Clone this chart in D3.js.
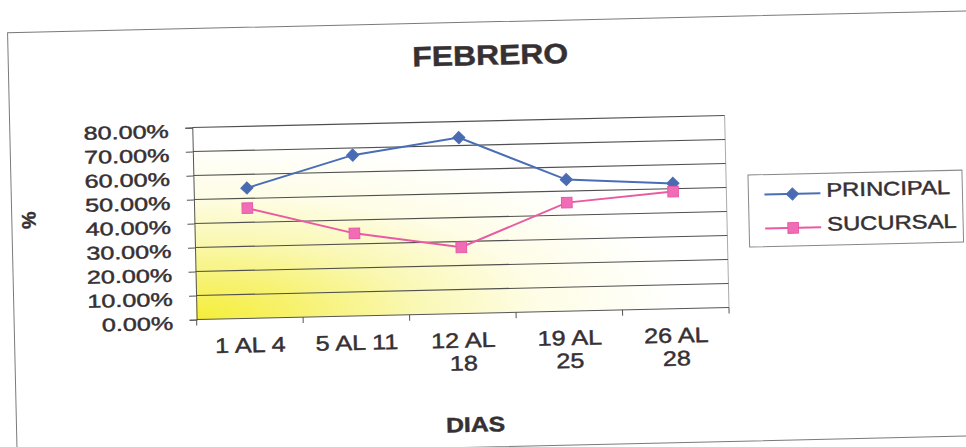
<!DOCTYPE html>
<html><head><meta charset="utf-8">
<script src="https://cdn.jsdelivr.net/npm/d3@7"></script>
<style>body{margin:0;background:#fff} svg{display:block}</style>
</head><body><svg id="c" width="966" height="447"></svg>
<script>
// ---- data ----
const categories = ["1 AL 4", "5 AL 11", "12 AL 18", "19 AL 25", "26 AL 28"];
const principal = [0.543, 0.67, 0.733, 0.548, 0.522];
const sucursal  = [0.459, 0.344, 0.276, 0.452, 0.488];
const yTicks = [0, 0.1, 0.2, 0.3, 0.4, 0.5, 0.6, 0.7, 0.8];
const seriesNames = ["PRINCIPAL", "SUCURSAL"];
const chartTitle = "FEBRERO", xTitle = "DIAS", yTitle = "%";

// ---- setup ----
const FONT = "'Liberation Sans', Arial, sans-serif";
const TXT = "#363033";
const svg = d3.select("#c");
const root = svg.append("g").attr("transform", "rotate(-1.3 483 223)");
const M = {left: 194.5, right: 727, top: 121, bottom: 313};
const x = d3.scaleBand().domain(categories).range([M.left, M.right]);
const y = d3.scaleLinear().domain([0, 0.8]).range([M.bottom, M.top]);
const cx = c => x(c) + x.bandwidth() / 2;
const heavy = sel => sel.attr("fill", TXT).attr("stroke", TXT).attr("stroke-width", 0.45);

const series = [
  {name: seriesNames[0], values: principal, color: "#4a6eb6", fill: "#4a6ab2", shape: "diamond"},
  {name: seriesNames[1], values: sucursal,  color: "#e95aa3", fill: "#f06cb6", shape: "square"}
];

// outer chart border
root.append("rect").attr("x", 12).attr("y", 22).attr("width", 1000).attr("height", 425)
  .attr("fill", "none").attr("stroke", "#7a7a7a").attr("stroke-width", 1);

// gradient
const defs = svg.append("defs");
const grad = defs.append("radialGradient").attr("id", "bg")
  .attr("cx", 0).attr("cy", 1).attr("r", 0.92).attr("fx", 0).attr("fy", 1);
[[0, "#f5ee38"], [0.22, "#f7f272"], [0.45, "#faf8b4"], [0.7, "#fefde6"], [1, "#ffffff"]]
  .forEach(([o, c]) => grad.append("stop").attr("offset", o).attr("stop-color", c));

root.append("rect").attr("x", M.left).attr("y", M.top)
  .attr("width", M.right - M.left).attr("height", M.bottom - M.top)
  .attr("fill", "url(#bg)");

// right border of plot
root.append("line").attr("x1", M.right).attr("x2", M.right).attr("y1", M.top).attr("y2", M.bottom)
  .attr("stroke", "#aaa").attr("stroke-width", 1);

// gridlines
root.append("g").selectAll("line").data(yTicks.filter(t => t > 0)).join("line")
  .attr("x1", M.left).attr("x2", M.right)
  .attr("y1", d => y(d)).attr("y2", d => y(d))
  .attr("stroke", "#505050").attr("stroke-width", 1.1);

// y axis
const ySX = 1.36;
const gy = root.append("g").attr("transform", `translate(${M.left},0)`)
  .call(d3.axisLeft(y).tickValues(yTicks).tickSize(7).tickPadding(10).tickFormat(d3.format(".2%")));
gy.select(".domain").attr("stroke", "#555");
gy.selectAll(".tick line").attr("stroke", "#555");
gy.selectAll(".tick text")
  .attr("font-family", FONT).attr("font-size", 18.5)
  .attr("x", -23.5 / ySX).attr("dy", "0.5em")
  .attr("transform", `scale(${ySX},1)`)
  .call(heavy);

// x axis line + boundary ticks
root.append("line").attr("x1", M.left).attr("x2", M.right).attr("y1", M.bottom).attr("y2", M.bottom)
  .attr("stroke", "#555");
const bounds = categories.map(c => x(c)).concat([x(categories[categories.length - 1]) + x.bandwidth()]);
root.append("g").selectAll("line").data(bounds).join("line")
  .attr("x1", d => d).attr("x2", d => d).attr("y1", M.bottom).attr("y2", M.bottom + 6)
  .attr("stroke", "#555");

// x labels (wrapped)
const xSX = 1.2, xFS = 21;
const xl = root.append("g").attr("font-family", FONT).attr("font-size", xFS).call(heavy);
categories.forEach(c => {
  const g = xl.append("g").attr("transform", `translate(${cx(c)},${M.bottom + 34}) scale(${xSX},1)`);
  const t = g.append("text").attr("text-anchor", "middle").text(c);
  const w = t.node().getComputedTextLength() * xSX;
  if (w > 94) {
    const i = c.lastIndexOf(" ");
    t.text(c.slice(0, i));
    g.append("text").attr("text-anchor", "middle").attr("y", 23).text(c.slice(i + 1));
  }
});

// lines and markers
const line = d3.line().x((d, i) => cx(categories[i])).y(d => y(d));
series.forEach(s => {
  root.append("path").datum(s.values).attr("d", line)
    .attr("fill", "none").attr("stroke", s.color).attr("stroke-width", 2);
  const sym = s.shape === "diamond"
    ? d3.symbol(d3.symbolSquare, 74) : d3.symbol(d3.symbolSquare, 112);
  root.append("g").selectAll("path").data(s.values).join("path")
    .attr("d", sym)
    .attr("transform", (d, i) => `translate(${cx(categories[i])},${y(d)})` + (s.shape === "diamond" ? " rotate(45)" : ""))
    .attr("fill", s.fill).attr("stroke", s.color).attr("stroke-width", 1);
});

// legend
const L = {x: 749, y: 181, w: 214, h: 72};
root.append("rect").attr("x", L.x).attr("y", L.y).attr("width", L.w).attr("height", L.h)
  .attr("fill", "#fff").attr("stroke", "#888");
const lSX = 1.22;
series.forEach((s, i) => {
  const ry = L.y + 20 + i * 34;
  root.append("line").attr("x1", L.x + 16).attr("x2", L.x + 72).attr("y1", ry).attr("y2", ry)
    .attr("stroke", s.color).attr("stroke-width", 2);
  root.append("path")
    .attr("d", s.shape === "diamond" ? d3.symbol(d3.symbolSquare, 74)() : d3.symbol(d3.symbolSquare, 112)())
    .attr("transform", `translate(${L.x + 44},${ry})` + (s.shape === "diamond" ? " rotate(45)" : ""))
    .attr("fill", s.fill).attr("stroke", s.color);
  root.append("text").attr("transform", `translate(${L.x + 78},${ry + 3.5}) scale(${lSX},1)`)
    .attr("font-family", FONT).attr("font-size", 19.5).text(s.name).call(heavy);
});

// titles
root.append("text").attr("transform", `translate(494,65) scale(1.14,1)`)
  .attr("text-anchor", "middle").attr("font-family", FONT).attr("font-weight", "bold")
  .attr("font-size", 28).text(chartTitle).call(heavy);
root.append("text").attr("transform", `translate(471,431.5) scale(1.18,1)`)
  .attr("text-anchor", "middle").attr("font-family", FONT).attr("font-weight", "bold")
  .attr("font-size", 21).text(xTitle).call(heavy);
root.append("text").attr("transform", `translate(29,210) rotate(-90)`)
  .attr("text-anchor", "middle").attr("dy", "0.35em").attr("font-family", FONT).attr("font-weight", "bold")
  .attr("font-size", 19.5).text(yTitle).call(heavy);
</script></body></html>
